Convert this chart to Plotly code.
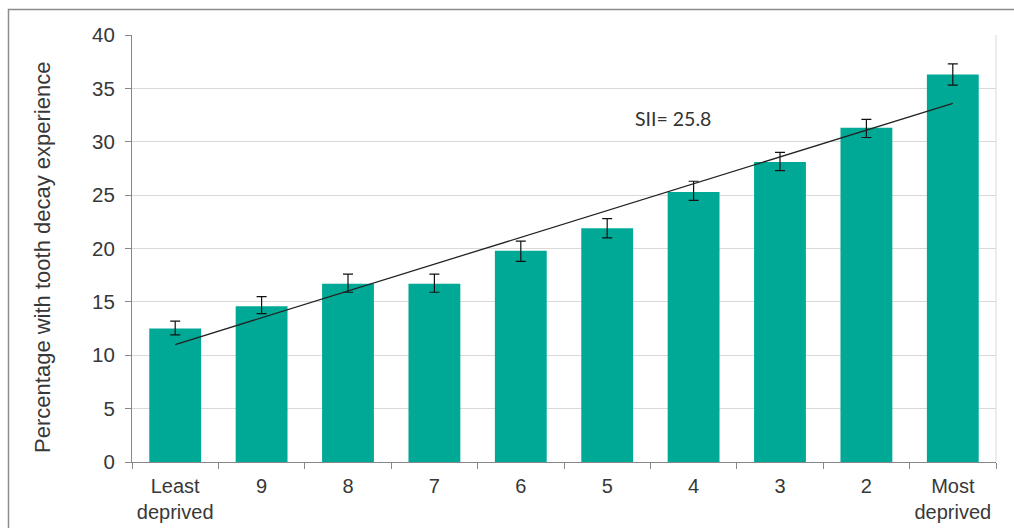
import plotly.graph_objects as go

categories = ["Least<br>deprived", "9", "8", "7", "6", "5", "4", "3", "2", "Most<br>deprived"]
percent = [12.5, 14.6, 16.7, 16.7, 19.8, 21.9, 25.3, 28.1, 31.3, 36.3]
ci_upper = [13.2, 15.5, 17.6, 17.6, 20.7, 22.8, 26.3, 29.0, 32.1, 37.3]
ci_lower = [11.9, 13.9, 15.9, 15.9, 18.8, 21.0, 24.5, 27.3, 30.4, 35.3]
trend_x = ["Least<br>deprived", "Most<br>deprived"]
trend_y = [11.0, 33.6]
sii_label = "SII= 25.8"
y_ticks = [0, 5, 10, 15, 20, 25, 30, 35, 40]

err_plus = [u - v for u, v in zip(ci_upper, percent)]
err_minus = [v - l for v, l in zip(percent, ci_lower)]

TEXT = "#383838"
FONT = "Liberation Sans, Arial, sans-serif"

fig = go.Figure()
fig.add_trace(go.Bar(
    x=categories, y=percent, width=0.6,
    marker=dict(color="#00A896", line=dict(width=0)),
    error_y=dict(type="data", symmetric=False, array=err_plus, arrayminus=err_minus,
                 color="#111111", thickness=1.2, width=5),
    showlegend=False,
))
fig.add_trace(go.Scatter(
    x=trend_x, y=trend_y, mode="lines",
    line=dict(color="#222222", width=1.3), showlegend=False,
))

fig.update_layout(
    width=1014, height=528,
    margin=dict(l=132, r=18, t=35, b=66),
    paper_bgcolor="white", plot_bgcolor="white",
    font=dict(family=FONT, color=TEXT, size=20),
    bargap=0.4,
)
fig.update_xaxes(
    type="category", showline=True, linecolor="#868686", linewidth=1,
    ticks="outside", tickson="boundaries", ticklen=6, tickcolor="#868686",
    tickfont=dict(size=20, color=TEXT), showgrid=False, ticklabelstandoff=6,
    automargin=False,
)
fig.update_yaxes(
    range=[0, 40], tickvals=y_ticks, showline=True, linecolor="#868686", linewidth=1,
    ticks="outside", ticklen=6, tickcolor="#868686",
    gridcolor="#d9d9d9", gridwidth=1, zeroline=False,
    tickfont=dict(size=20.5, color=TEXT), ticklabelstandoff=6, automargin=False,
)

fig.add_annotation(
    text="Percentage with tooth decay experience", textangle=-90,
    xref="paper", yref="paper", x=-0.103, y=0.478, xanchor="center", yanchor="middle",
    showarrow=False, font=dict(size=22, color=TEXT, family=FONT),
)
fig.add_annotation(
    text=sii_label, x=5.756, y=32.2, xref="x", yref="y",
    showarrow=False, font=dict(size=19.5, color="#333333", family="Lato, Open Sans, sans-serif"),
)

# plot area right border
fig.add_shape(type="line", xref="paper", yref="paper", x0=1, x1=1, y0=0, y1=1,
              line=dict(color="#d9d9d9", width=1))
# outer chart border (cropped on right/bottom)
fig.add_shape(type="rect", xref="paper", yref="paper",
              x0=(8.5 - 132) / 864, x1=1.2, y0=-0.5, y1=(462 - 9.5) / 427,
              line=dict(color="#8c8c8c", width=1.5), layer="below")

fig.write_html("out.html")
